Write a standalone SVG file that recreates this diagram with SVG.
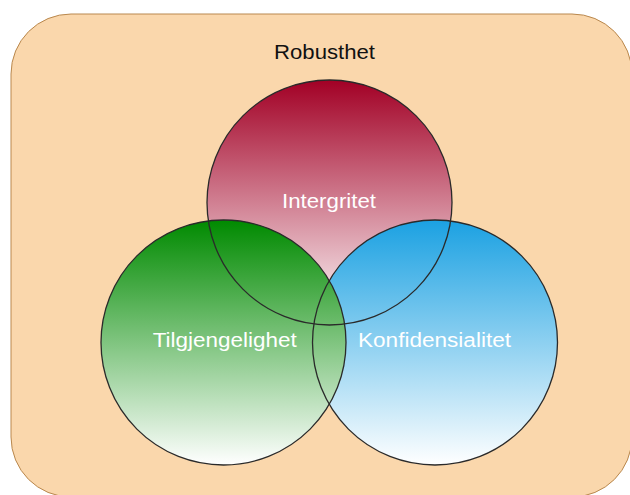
<svg xmlns="http://www.w3.org/2000/svg" width="630" height="495" viewBox="0 0 630 495">
  <defs>
    <linearGradient id="gRed" x1="0" y1="0" x2="0" y2="1">
      <stop offset="0" stop-color="#a20025"/>
      <stop offset="1" stop-color="#ffffff"/>
    </linearGradient>
    <linearGradient id="gGreen" x1="0" y1="0" x2="0" y2="1">
      <stop offset="0" stop-color="#008a00"/>
      <stop offset="1" stop-color="#ffffff"/>
    </linearGradient>
    <linearGradient id="gBlue" x1="0" y1="0" x2="0" y2="1">
      <stop offset="0" stop-color="#1ba1e2"/>
      <stop offset="1" stop-color="#ffffff"/>
    </linearGradient>
  </defs>
  <style>
    .outline { fill: none; stroke: #2a2a2a; stroke-width: 1.3; }
    .lbl { font-family: "Liberation Sans", Arial, sans-serif; font-size: 20px; text-anchor: middle; }
    .w { fill: #ffffff; }
  </style>
  <rect width="630" height="495" fill="#ffffff"/>
  <g id="robusthet">
    <rect x="11" y="14" width="621" height="483" rx="60" ry="60" fill="#fad7ac" stroke="#b9884e" stroke-width="1"/>
    <text class="lbl" x="324.5" y="59" fill="#111111" textLength="101" lengthAdjust="spacingAndGlyphs">Robusthet</text>
  </g>
  <g id="fills">
    <circle cx="329.5" cy="202.5" r="122.5" fill="url(#gRed)"/>
    <circle cx="435" cy="342.5" r="122.5" fill="url(#gBlue)"/>
    <circle cx="223.5" cy="342.5" r="122.5" fill="url(#gGreen)"/>
  </g>
  <g id="intergritet">
    <circle class="outline" cx="329.5" cy="202.5" r="122.5"/>
    <text class="lbl w" x="329" y="208" textLength="94" lengthAdjust="spacingAndGlyphs">Intergritet</text>
  </g>
  <g id="tilgjengelighet">
    <circle class="outline" cx="223.5" cy="342.5" r="122.5"/>
    <text class="lbl w" x="224.7" y="347" textLength="144" lengthAdjust="spacingAndGlyphs">Tilgjengelighet</text>
  </g>
  <g id="konfidensialitet">
    <circle class="outline" cx="435" cy="342.5" r="122.5"/>
    <text class="lbl w" x="434.5" y="347" textLength="153" lengthAdjust="spacingAndGlyphs">Konfidensialitet</text>
  </g>
  <g id="connectors"></g>
</svg>
